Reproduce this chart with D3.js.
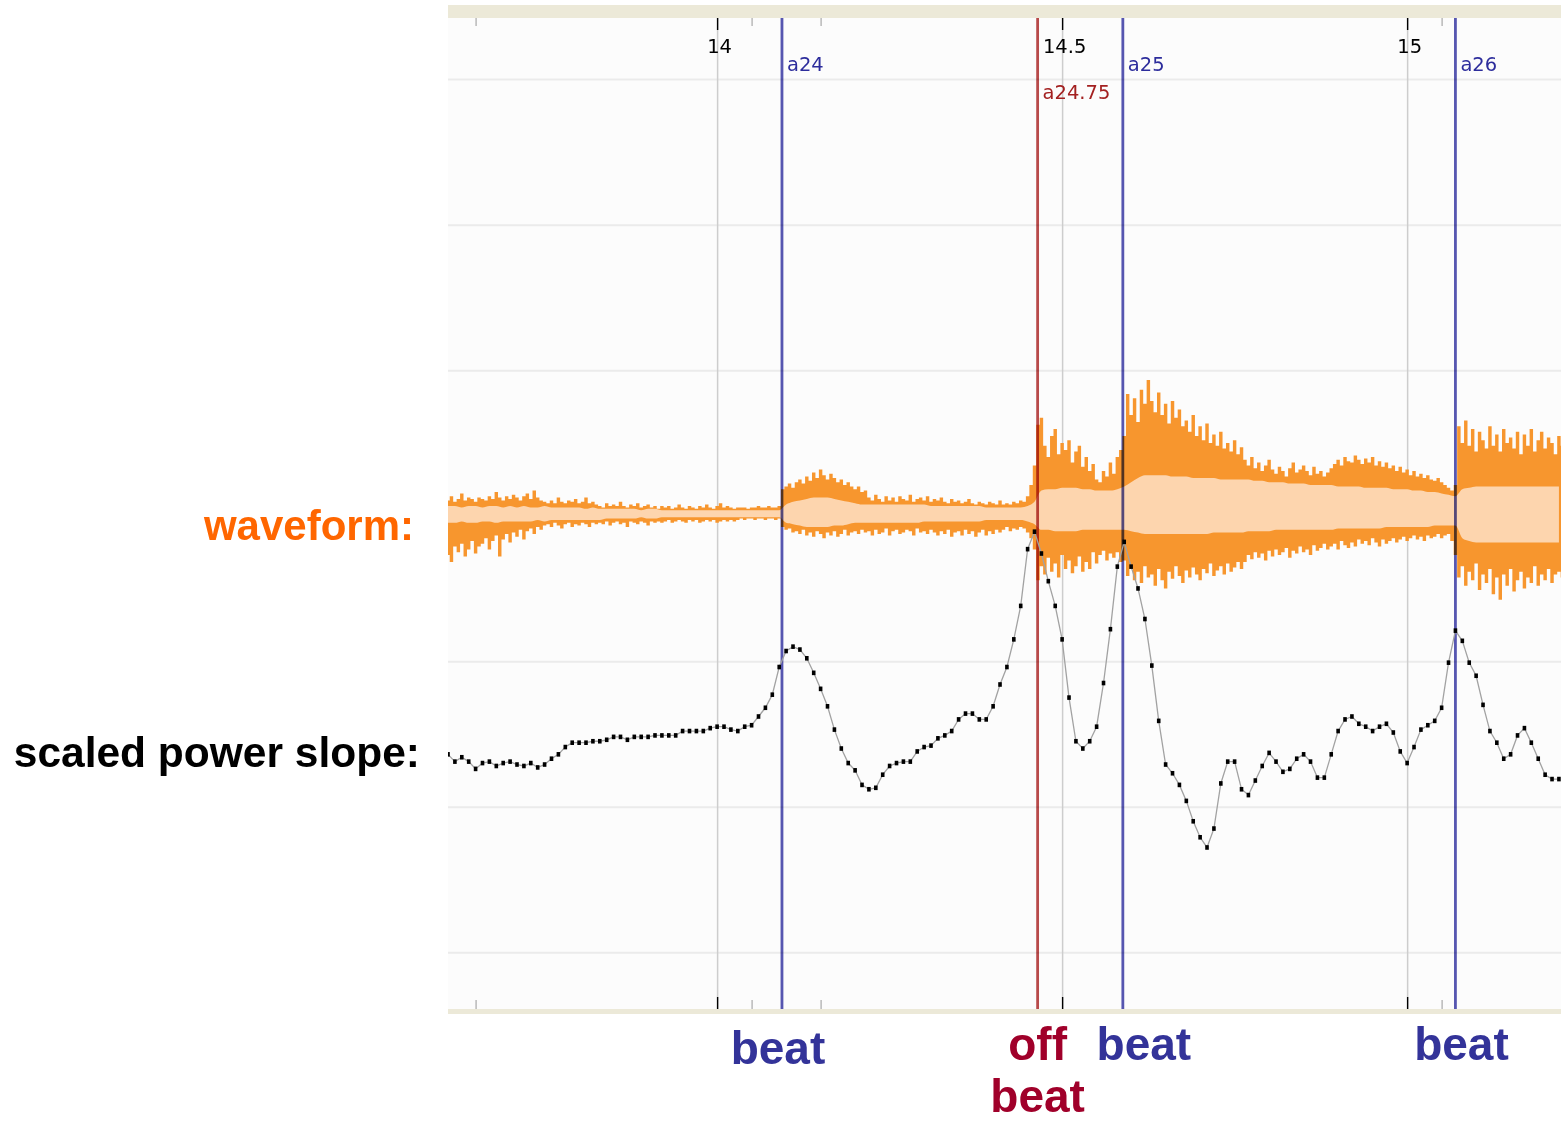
<!DOCTYPE html>
<html>
<head>
<meta charset="utf-8">
<script src="https://cdn.jsdelivr.net/npm/d3@7"></script>
<style>
  body { margin: 0; background: #ffffff; }
  svg { display: block; }
</style>
</head>
<body>
<svg id="chart" width="1561" height="1122"></svg>
<script>
// ---- time axis (seconds) ----
const majorTicks = [14, 14.5, 15];
const minorTicks = [13.65, 14.05, 14.15, 15.05];
const gridLevels = [-3, -2, -1, 0, 1, 2, 3];

// ---- beat annotations ----
const beatNames = ["a24", "a24.75", "a25", "a26"];
const beatTimes = [14.094, 14.4645, 14.588, 15.07];
const beatKinds = ["on", "off", "on", "on"];

// ---- scaled power slope, one value per 10 ms analysis frame ----
const frameStart = 13.61;
const frameStep = 0.01;
const powerSlope = [
  -1.64, -1.69, -1.66, -1.69, -1.74, -1.70, -1.69, -1.72, -1.70, -1.69,
  -1.71, -1.72, -1.70, -1.73, -1.71, -1.67, -1.64, -1.59, -1.56, -1.56,
  -1.56, -1.55, -1.55, -1.54, -1.52, -1.52, -1.54, -1.52, -1.52, -1.52,
  -1.51, -1.51, -1.51, -1.51, -1.48, -1.48, -1.48, -1.48, -1.46, -1.45,
  -1.45, -1.47, -1.48, -1.45, -1.44, -1.38, -1.32, -1.23, -1.04, -0.93,
  -0.90, -0.92, -0.98, -1.08, -1.19, -1.31, -1.47, -1.60, -1.70, -1.75,
  -1.85, -1.88, -1.87, -1.78, -1.72, -1.70, -1.69, -1.69, -1.62, -1.59,
  -1.58, -1.53, -1.51, -1.48, -1.40, -1.36, -1.36, -1.40, -1.40, -1.31,
  -1.16, -1.04, -0.85, -0.62, -0.23, -0.11, -0.26, -0.45, -0.62, -0.85,
  -1.25, -1.55, -1.60, -1.55, -1.45, -1.15, -0.78, -0.35, -0.18, -0.35,
  -0.50, -0.71, -1.03, -1.41, -1.71, -1.77, -1.85, -1.96, -2.10, -2.21,
  -2.28, -2.15, -1.84, -1.69, -1.69, -1.88, -1.92, -1.82, -1.72, -1.63,
  -1.69, -1.76, -1.74, -1.67, -1.64, -1.69, -1.80, -1.80, -1.64, -1.48,
  -1.40, -1.38, -1.43, -1.45, -1.48, -1.45, -1.43, -1.49, -1.62, -1.70,
  -1.59, -1.47, -1.44, -1.41, -1.32, -1.01, -0.79, -0.86, -1.01, -1.10,
  -1.30, -1.48, -1.56, -1.67, -1.64, -1.51, -1.46, -1.56, -1.67, -1.78,
  -1.81, -1.81
];

// ---- waveform RMS band per frame (% of full scale), above and below zero ----
const waveRmsUp = [
  5, 5, 4, 5, 5, 4, 5, 5, 4, 5, 4, 5, 4, 4, 5, 4, 4, 4, 4, 4, 3, 4, 3,
  3, 3, 3, 3, 3, 2, 3, 3, 2, 2, 2, 2, 2, 2, 2, 2, 2, 2, 2, 2, 2, 2, 2, 2, 2, 2,
  6, 8, 9, 10, 11, 11, 11, 10, 9, 8, 7, 6,
  6, 6, 6, 6, 6, 6, 6, 6, 6, 5, 5, 5, 5, 5, 5, 5, 5, 4, 4, 4,
  4, 4, 4, 5, 8,
  16, 17, 17, 18, 18, 18, 17, 17, 16, 16, 16, 17, 19,
  22, 25, 27, 27, 27, 27, 26, 26, 26, 25, 25, 25, 25, 24, 24, 24, 24,
  24, 23, 23, 22, 22, 22, 21, 21, 21, 20, 20, 20, 20,
  19, 19, 19, 19, 18, 18, 18, 18, 17, 17, 17, 16, 16, 15, 15, 14, 13, 12,
  17, 18, 19, 19, 19, 19, 19, 19, 19, 19, 19, 19, 19, 19, 19
];
const waveRmsDown = [
  7, 7, 6, 7, 7, 6, 6, 7, 6, 6, 6, 6, 6, 5, 6, 5, 5, 5, 5, 5, 5, 5, 5,
  4, 4, 4, 4, 4, 3, 4, 4, 3, 3, 3, 3, 3, 3, 3, 3, 3, 3, 3, 3, 3, 3, 3, 3, 3, 3,
  7, 8, 9, 10, 10, 10, 10, 9, 9, 8, 7, 7,
  7, 7, 7, 7, 7, 7, 7, 7, 6, 6, 6, 6, 6, 6, 6, 6, 6, 5, 5, 5,
  5, 5, 5, 6, 8,
  12, 12, 13, 13, 13, 13, 12, 12, 12, 12, 12, 12, 12,
  13, 14, 15, 15, 15, 15, 15, 15, 15, 15, 15, 15, 14, 14, 14, 14, 14,
  13, 13, 13, 13, 12, 12, 12, 12, 12, 12, 12, 12, 12,
  11, 11, 11, 11, 11, 11, 11, 10, 10, 10, 10, 10, 10, 10, 9, 9, 9, 9,
  18, 20, 21, 21, 21, 21, 21, 21, 21, 21, 21, 21, 21, 21, 21
];

// ---- waveform peak envelope, one value per 5 ms (% of full scale) ----
const peakStep = 0.005;
const wavePeakHi = [
  9, 12, 8, 10, 14, 9, 11, 10, 8, 11,
  10, 9, 12, 10, 15, 11, 9, 12, 10, 13, 11, 9, 12, 14, 10, 16, 11, 9,
  8, 7, 9, 7, 11, 8, 7, 9, 8, 10, 7, 8, 11, 7, 8, 6,
  5, 4, 7, 5, 6, 5, 8, 5, 4, 6, 5, 7, 4, 5, 6, 4, 5, 3, 5,
  4, 5, 3, 4, 6, 4, 3, 5, 4, 3, 5, 4, 6, 4, 3, 5, 7, 4, 5, 4, 3, 4,
  4, 4, 3, 4, 4, 5, 4, 4, 5, 4, 4, 5,
  17, 19, 21, 18, 22, 24, 21, 26, 23, 29, 25, 31, 27, 24, 28, 25, 22, 24, 20, 22, 19, 17, 19, 15, 16,
  11, 9, 13, 10, 8, 12, 9, 11, 8, 12, 10, 9, 13, 8, 10, 11, 9, 12, 8, 10,
  9, 11, 8, 7, 10, 8, 9, 7, 8, 10, 7, 6, 8, 7, 6, 8, 7, 6, 9,
  6, 7, 6, 8, 7, 9, 8, 12, 20, 34,
  63, 68, 48, 40, 55, 60, 42, 50, 45, 52, 36, 44, 48, 33, 40, 30, 35, 24, 22, 30, 26, 36, 28, 40, 45,
  55, 85, 70, 82, 65, 88, 78, 95, 80, 72, 86, 70, 78, 64, 80, 68, 74, 62, 66, 58,
  70, 55, 62, 52, 64, 50, 56, 48, 58, 46, 50, 44, 52, 42, 47,
  38, 34, 40, 32, 36, 30, 34, 38, 31, 28, 33, 30, 26, 32, 36, 29, 31, 34, 30, 27, 33, 28, 30, 26, 29,
  32, 35, 38, 34, 40, 37, 36, 41, 38, 35, 39, 36, 40, 34, 37, 33, 36, 32, 34, 30,
  33, 29, 31, 27, 30, 26, 28, 25, 27, 24, 23, 25, 22, 20,
  18, 16, 20,
  62, 50, 66, 48, 60, 44, 58, 52, 46, 62, 48, 56, 44, 60, 50, 54, 46, 58, 42, 56,
  48, 60, 44, 52, 58, 46, 54, 50, 42, 55, 48
];
const wavePeakLo = [
  -30, -35, -24, -28, -22, -31, -26, -20, -29, -24,
  -22, -18, -26, -20, -16, -31, -19, -15, -21, -14, -17, -12, -19, -13, -11, -15, -10, -12,
  -9, -8, -10, -7, -9, -11, -8, -7, -10, -8, -9, -7, -8, -10, -7, -8,
  -7, -8, -6, -9, -7, -6, -8, -7, -10, -6, -7, -8, -6, -7, -9, -6, -7, -6, -7,
  -6, -5, -7, -6, -5, -6, -7, -5, -6, -5, -7, -6, -5, -6, -5, -7, -6, -5, -6, -5, -6, -5,
  -4, -5, -4, -4, -5, -4, -4, -5, -4, -4, -5, -4,
  -10, -12, -11, -14, -13, -15, -12, -16, -14, -17, -13, -15, -18, -14, -16, -13, -17, -15, -12, -16, -14, -13, -15, -12, -14,
  -13, -16, -12, -15, -14, -11, -16, -13, -12, -15, -14, -12, -13, -16, -11, -14, -13, -15, -12, -14,
  -16, -13, -15, -12, -17, -14, -13, -16, -12, -15, -13, -17, -14, -12, -16, -13, -15, -12, -14,
  -12, -10, -13, -11, -12, -10, -11, -14, -18, -26,
  -48, -38, -44, -32, -42, -36, -46, -30, -40, -34, -43, -38, -31, -42, -35, -40, -28, -36, -30, -27, -34, -29, -32, -28, -35,
  -34, -45, -40, -48, -42, -50, -38, -46, -44, -52, -40, -48, -54, -42, -47, -38, -45, -50, -41, -46,
  -39, -44, -48, -40, -43, -36, -45, -41, -38, -44, -36, -42, -39, -35, -40,
  -35, -30, -33, -28, -32, -29, -34, -27, -31, -26, -30, -28, -25, -32, -27, -29, -24, -28, -26, -30, -23, -27, -25, -22, -26,
  -24, -22, -26, -20, -23, -25, -21, -24, -19, -22, -20, -23, -18, -21, -24, -19, -22, -20, -18, -21,
  -19, -17, -20, -18, -16, -19, -17, -20, -16, -18, -17, -15, -18, -16,
  -15, -20, -30,
  -46, -38, -52, -42, -48, -36, -55, -44, -50, -40, -58, -46, -62, -44, -52, -40, -56, -48, -42, -54,
  -46, -50, -38, -52, -44, -48, -40, -50, -44, -42, -46
];

// ---- layout ----
const plot = { left: 448, right: 1561, top: 18, bottom: 1009 };
const svg = d3.select("#chart");

const x = d3.scaleLinear().domain([13.61, 15.223]).range([plot.left, plot.right]);
const y = d3.scaleLinear().domain([-3.39, 3.42]).range([plot.bottom, plot.top]);
const yWave = d3.scaleLinear().domain([-100, 100]).range([653, 373]);

const frames = powerSlope.map((v, i) => ({
  t: frameStart + i * frameStep, v, up: waveRmsUp[i], down: waveRmsDown[i]
}));
const peaks = wavePeakHi.map((hi, i) => ({ t: frameStart + i * peakStep, hi, lo: wavePeakLo[i] }));

svg.append("defs").append("clipPath").attr("id", "plotClip")
  .append("rect")
  .attr("x", plot.left).attr("y", plot.top)
  .attr("width", plot.right - plot.left).attr("height", plot.bottom - plot.top);

// plot background and frame bands
svg.append("rect")
  .attr("x", plot.left).attr("y", plot.top)
  .attr("width", plot.right - plot.left).attr("height", plot.bottom - plot.top)
  .attr("fill", "#fcfcfc");
svg.append("rect")
  .attr("x", plot.left).attr("y", 5)
  .attr("width", plot.right - plot.left).attr("height", plot.top - 5)
  .attr("fill", "#ece9d8");
svg.append("rect")
  .attr("x", plot.left).attr("y", plot.bottom)
  .attr("width", plot.right - plot.left).attr("height", 5)
  .attr("fill", "#ece9d8");

const body = svg.append("g").attr("clip-path", "url(#plotClip)");

// horizontal grid
body.append("g")
  .attr("transform", `translate(${plot.left},0)`)
  .call(d3.axisRight(y).tickValues(gridLevels).tickSize(plot.right - plot.left).tickFormat(""))
  .call(g => g.select(".domain").remove())
  .call(g => g.selectAll(".tick line").attr("stroke", "#ebebeb").attr("stroke-width", 2));

// vertical grid at whole / half seconds
body.append("g")
  .attr("transform", `translate(0,${plot.top})`)
  .call(d3.axisBottom(x).tickValues(majorTicks).tickSize(plot.bottom - plot.top).tickFormat(""))
  .call(g => g.select(".domain").remove())
  .call(g => g.selectAll(".tick line").attr("stroke", "#cdcdcd").attr("stroke-width", 1.5));

// waveform: peak envelope, then RMS band
body.append("path")
  .datum(peaks)
  .attr("fill", "#f7962e")
  .attr("d", d3.area()
    .x(d => x(d.t))
    .y0(d => yWave(d.lo))
    .y1(d => yWave(d.hi))
    .curve(d3.curveStep));

body.append("path")
  .datum(frames)
  .attr("fill", "#fdd5ae")
  .attr("d", d3.area()
    .x(d => x(d.t))
    .y0(d => yWave(-d.down))
    .y1(d => yWave(d.up))
    .curve(d3.curveMonotoneX));

// beat markers
const beats = beatNames.map((name, i) => ({ name, t: beatTimes[i], kind: beatKinds[i] }));
const beatColor = k => (k === "off" ? "#b84a4a" : "#5656b0");

body.selectAll(".beat-line")
  .data(beats)
  .join("line")
  .attr("class", "beat-line")
  .attr("x1", d => x(d.t)).attr("x2", d => x(d.t))
  .attr("y1", plot.top).attr("y2", plot.bottom)
  .attr("stroke", d => beatColor(d.kind))
  .attr("stroke-width", 2.8)
  .style("mix-blend-mode", "multiply");

// scaled power slope: thin line with square frame markers
body.append("path")
  .datum(frames)
  .attr("fill", "none")
  .attr("stroke", "#a2a2a2")
  .attr("stroke-width", 1.3)
  .attr("d", d3.line().x(d => x(d.t)).y(d => y(d.v)));

body.selectAll(".frame-dot")
  .data(frames)
  .join("rect")
  .attr("class", "frame-dot")
  .attr("x", d => x(d.t) - 1.8)
  .attr("y", d => y(d.v) - 2.3)
  .attr("width", 3.6)
  .attr("height", 4.6)
  .attr("fill", "#000");

// top time axis: ticks hang down into the plot, labels below them
const tickFont = "'DejaVu Sans', Verdana, sans-serif";
svg.append("g")
  .attr("transform", `translate(0,${plot.top})`)
  .call(d3.axisBottom(x).tickValues(minorTicks).tickSize(8).tickFormat(""))
  .call(g => g.select(".domain").remove())
  .call(g => g.selectAll(".tick line").attr("stroke", "#b9b9b9").attr("stroke-width", 1.5));

svg.append("g")
  .attr("transform", `translate(0,${plot.top})`)
  .call(d3.axisBottom(x).tickValues(majorTicks).tickSize(12).tickPadding(9).tickFormat(d3.format("~g")))
  .call(g => g.select(".domain").remove())
  .call(g => g.selectAll(".tick line").attr("stroke", "#000").attr("stroke-width", 1.4))
  .call(g => g.selectAll(".tick text")
    .attr("fill", "#000")
    .attr("dx", 2)
    .style("font-family", tickFont)
    .style("font-size", "19.5px"));

// bottom time axis: ticks only
svg.append("g")
  .attr("transform", `translate(0,${plot.bottom})`)
  .call(d3.axisTop(x).tickValues(minorTicks).tickSize(9).tickFormat(""))
  .call(g => g.select(".domain").remove())
  .call(g => g.selectAll(".tick line").attr("stroke", "#b9b9b9").attr("stroke-width", 1.5));

svg.append("g")
  .attr("transform", `translate(0,${plot.bottom})`)
  .call(d3.axisTop(x).tickValues(majorTicks).tickSize(12).tickFormat(""))
  .call(g => g.select(".domain").remove())
  .call(g => g.selectAll(".tick line").attr("stroke", "#000").attr("stroke-width", 1.4));

// beat names next to their lines
svg.selectAll(".beat-name")
  .data(beats)
  .join("text")
  .attr("class", "beat-name")
  .attr("x", d => x(d.t) + 5)
  .attr("y", d => (d.kind === "off" ? 99 : 71))
  .attr("fill", d => (d.kind === "off" ? "#a32020" : "#2d2d9c"))
  .style("font-family", tickFont)
  .style("font-size", "19.5px")
  .text(d => d.name);

// series labels on the left
const labelFont = "'Liberation Sans', Arial, Helvetica, sans-serif";
svg.append("text")
  .attr("x", 414).attr("y", 540)
  .attr("text-anchor", "end")
  .attr("fill", "#ff6600")
  .style("font-family", labelFont).style("font-weight", "bold").style("font-size", "42px")
  .text("waveform:");
svg.append("text")
  .attr("x", 420).attr("y", 767)
  .attr("text-anchor", "end")
  .attr("fill", "#000")
  .style("font-family", labelFont).style("font-weight", "bold").style("font-size", "42.5px")
  .text("scaled power slope:");

// beat / off-beat captions under the axis
const captionDx = [-4, 0, 21, 6];
const captionY = [1064, 1060, 1060, 1060];
const captions = svg.selectAll(".caption")
  .data(beats)
  .join("text")
  .attr("class", "caption")
  .attr("text-anchor", "middle")
  .attr("fill", d => (d.kind === "off" ? "#a0002a" : "#333399"))
  .style("font-family", labelFont).style("font-weight", "bold").style("font-size", "46px")
  .attr("x", d => x(d.t))
  .attr("y", (d, i) => captionY[i])
  .attr("dx", (d, i) => captionDx[i]);

captions.filter(d => d.kind !== "off").text("beat");
captions.filter(d => d.kind === "off")
  .call(t => {
    t.append("tspan").attr("x", d => x(d.t)).attr("dy", 0).text("off");
    t.append("tspan").attr("x", d => x(d.t)).attr("dy", 52).text("beat");
  });
</script>
</body>
</html>
